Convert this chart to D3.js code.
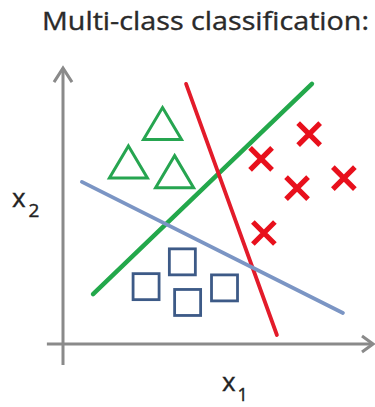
<!DOCTYPE html>
<html>
<head>
<meta charset="utf-8">
<script src="https://cdn.jsdelivr.net/npm/d3@7"></script>
<style>
html,body{margin:0;padding:0;background:#fff;}
svg{display:block;}
</style>
</head>
<body>
<svg id="chart" width="375" height="407"></svg>
<script>
// ---- data (data units on x1 / x2 axes) ----
const title = "Multi-class classification:";
const triangleX = [3.21, 2.11, 3.60];
const triangleY = [7.11, 5.87, 5.56];
const crossX = [6.39, 7.94, 7.55, 9.06, 6.48];
const crossY = [5.97, 6.77, 5.03, 5.35, 3.58];
const squareX = [3.85, 2.68, 4.02, 5.21];
const squareY = [2.65, 1.85, 1.34, 1.81];
// decision boundaries: start and end points
const lineNames = ["green", "red", "blue"];
const lineX0 = [0.97, 3.97, 0.61];
const lineY0 = [1.61, 8.39, 5.23];
const lineX1 = [8.03, 6.90, 9.03];
const lineY1 = [8.39, 0.29, 1.00];

const svg = d3.select("#chart");
const x = d3.scaleLinear().domain([0, 10]).range([63, 373]);
const y = d3.scaleLinear().domain([0, 10]).range([344, 34]);

const colors = {green: "#23a84b", red: "#e31b2a", blue: "#7b95c4"};
const axisColor = "#8a8a8a";

// title
svg.append("text")
  .attr("x", 42).attr("y", 30)
  .attr("font-family", "Open Sans, sans-serif")
  .attr("font-size", 25)
  .attr("fill", "#2a2a2a")
  .attr("stroke", "#2a2a2a").attr("stroke-width", 0.35)
  .attr("textLength", 327)
  .attr("lengthAdjust", "spacingAndGlyphs")
  .text(title);

// axes
const g = svg.append("g");
g.append("line")
  .attr("x1", x(0)).attr("y1", y(-0.68))
  .attr("x2", x(0)).attr("y2", y(8.9))
  .attr("stroke", axisColor).attr("stroke-width", 3);
g.append("line")
  .attr("x1", x(-0.52)).attr("y1", y(0))
  .attr("x2", x(10)).attr("y2", y(0))
  .attr("stroke", axisColor).attr("stroke-width", 3);
// arrowheads
g.append("path")
  .attr("d", `M${x(0)-9},${y(8.9)+14} L${x(0)},${y(8.9)} L${x(0)+9},${y(8.9)+14}`)
  .attr("fill", "none").attr("stroke", axisColor).attr("stroke-width", 3);
g.append("path")
  .attr("d", `M${x(10)-11},${y(0)-8} L${x(10)},${y(0)} L${x(10)-11},${y(0)+8}`)
  .attr("fill", "none").attr("stroke", axisColor).attr("stroke-width", 3);

// axis labels
const lab1 = svg.append("text")
  .attr("x", 222).attr("y", 391)
  .attr("font-family", "Open Sans, sans-serif")
  .attr("font-size", 26).attr("fill", "#222")
  .attr("stroke", "#222").attr("stroke-width", 0.4);
lab1.append("tspan").text("x");
lab1.append("tspan").attr("font-size", 18).attr("dy", 10).attr("dx", 2).text("1");

const lab2 = svg.append("text")
  .attr("x", 12).attr("y", 207)
  .attr("font-family", "Open Sans, sans-serif")
  .attr("font-size", 26).attr("fill", "#222")
  .attr("stroke", "#222").attr("stroke-width", 0.4);
lab2.append("tspan").text("x");
lab2.append("tspan").attr("font-size", 19).attr("dy", 10).attr("dx", 3).text("2");

// decision lines
const lines = lineNames.map((n, i) => ({n, x0: lineX0[i], y0: lineY0[i], x1: lineX1[i], y1: lineY1[i]}));
svg.append("g").selectAll("line").data(lines).join("line")
  .attr("x1", d => x(d.x0)).attr("y1", d => y(d.y0))
  .attr("x2", d => x(d.x1)).attr("y2", d => y(d.y1))
  .attr("stroke", d => colors[d.n])
  .attr("stroke-width", d => d.n === "green" ? 4.5 : 3.8)
  .attr("stroke-linecap", "round");

// triangles
const triW = 38, triH = 32;
svg.append("g").selectAll("path").data(triangleX.map((v, i) => [v, triangleY[i]])).join("path")
  .attr("d", d => {
    const cx = x(d[0]), cy = y(d[1]);
    return `M${cx},${cy - triH/2} L${cx + triW/2},${cy + triH/2} L${cx - triW/2},${cy + triH/2} Z`;
  })
  .attr("fill", "none").attr("stroke", "#26a550").attr("stroke-width", 3);

// squares
const sq = 26;
svg.append("g").selectAll("rect").data(squareX.map((v, i) => [v, squareY[i]])).join("rect")
  .attr("x", d => x(d[0]) - sq/2).attr("y", d => y(d[1]) - sq/2)
  .attr("width", sq).attr("height", sq)
  .attr("fill", "none").attr("stroke", "#3d5a87").attr("stroke-width", 2.8);

// crosses
const cr = 11;
svg.append("g").selectAll("path").data(crossX.map((v, i) => [v, crossY[i]])).join("path")
  .attr("d", d => {
    const cx = x(d[0]), cy = y(d[1]);
    return `M${cx-cr},${cy-cr} L${cx+cr},${cy+cr} M${cx-cr},${cy+cr} L${cx+cr},${cy-cr}`;
  })
  .attr("fill", "none").attr("stroke", "#e8101c").attr("stroke-width", 5.2);
</script>
</body>
</html>
